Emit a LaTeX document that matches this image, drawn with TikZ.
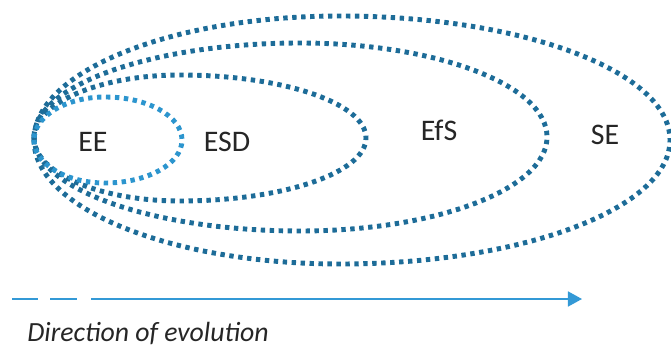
\documentclass[tikz,border=0pt]{standalone}
\usepackage{fontspec}
\setmainfont{Carlito}
\usetikzlibrary{arrows.meta}

\definecolor{ringblue}{HTML}{1D6C98}
\definecolor{innerblue}{HTML}{2C95CE}
\definecolor{arrowblue}{HTML}{3399D6}

\begin{document}
\begin{tikzpicture}[x=0.02cm, y=-0.02cm,
  ring/.style = {draw=ringblue, line width=2.8pt, dash pattern=on 2.5pt off 2.6pt},
  label/.style = {font=\fontsize{17}{19}\selectfont, text=black!85, inner sep=0pt},
  flow/.style = {draw=arrowblue, line width=1.1pt}]
  \useasboundingbox (0,0) rectangle (671,347);
  % rings, outermost first, all meeting at the left
  \draw[ring] (34,140) arc[start angle=180, end angle=90, x radius=306, y radius=124]
    arc[start angle=90, end angle=-90, x radius=330, y radius=124]
    arc[start angle=-90, end angle=-180, x radius=306, y radius=124];
  \draw[ring] (34,137) arc[start angle=180, end angle=90, x radius=266, y radius=94]
    arc[start angle=90, end angle=-90, x radius=247, y radius=94]
    arc[start angle=-90, end angle=-180, x radius=266, y radius=94];
  \draw[ring] (34,138) arc[start angle=180, end angle=90, x radius=146, y radius=63]
    arc[start angle=90, end angle=-90, x radius=186, y radius=63]
    arc[start angle=-90, end angle=-180, x radius=146, y radius=63];
  \draw[ring, draw=innerblue] (34,140) arc[start angle=180, end angle=90, x radius=71, y radius=43]
    arc[start angle=90, end angle=-90, x radius=77, y radius=43]
    arc[start angle=-90, end angle=-180, x radius=71, y radius=43];
  \node[label] (ee) at (93,142) {EE};
  \node[label] (esd) at (227,142) {ESD};
  \node[label] (efs) at (439,130) {EfS};
  \node[label] (se) at (605,135) {SE};
  % direction arrow
  \coordinate (d1) at (12,299);
  \coordinate (d2) at (38,299);
  \coordinate (d3) at (50,299);
  \coordinate (d4) at (77,299);
  \coordinate (start) at (91,299);
  \coordinate (end) at (582,299);
  \draw[flow] (d1) -- (d2);
  \draw[flow] (d3) -- (d4);
  \draw[flow, -{Triangle[length=8pt, width=8.5pt]}] (start) -- (end);
  \node[anchor=base west, inner sep=0pt, font=\fontsize{15.8}{18}\selectfont\itshape, text=black!85] (dir) at (27,341) {Direction of evolution};
\end{tikzpicture}
\end{document}
